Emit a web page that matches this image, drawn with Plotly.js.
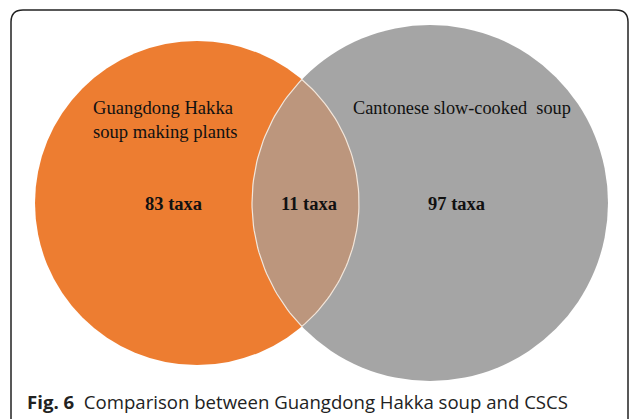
<!DOCTYPE html>
<html>
<head>
<meta charset="utf-8">
<script src="https://cdn.plot.ly/plotly-3.0.1.min.js"></script>
<style>html,body{margin:0;padding:0;background:#fff;}#chart{width:629px;height:419px;}</style>
</head>
<body>
<div id="chart"></div>
<script>
// ---- data ----
var setNames = ["Guangdong Hakka<br>soup making plants", "Cantonese slow-cooked  soup"];
var onlyCounts = [83, 97];
var sharedCount = 11;
var unitLabel = "taxa";
var captionBold = "Fig. 6";
var captionText = "Comparison between Guangdong Hakka soup and CSCS";

// ---- geometry (layout, pixel-like coordinates) ----
var circleCx = [197, 430];
var circleCy = [203, 203];
var circleR = [162, 178];
var circleColors = ["#ED7D31", "#A5A5A5"];
var lensColor = "#BC967D";

// lens polygon from the two circles
function lens() {
  var d = Math.abs(circleCx[1] - circleCx[0]);
  var a = (circleR[0]*circleR[0] - circleR[1]*circleR[1] + d*d) / (2*d);
  var h = Math.sqrt(circleR[0]*circleR[0] - a*a);
  var t0 = Math.atan2(h, a);
  var t1 = Math.atan2(h, d - a);
  var xs = [], ys = [];
  var n = 60, i, t;
  for (i = 0; i <= n; i++) {
    t = -t0 + 2*t0*i/n;
    xs.push(circleCx[0] + circleR[0]*Math.cos(t));
    ys.push(circleCy[0] + circleR[0]*Math.sin(t));
  }
  for (i = 0; i <= n; i++) {
    t = Math.PI - t1 + 2*t1*i/n;
    xs.push(circleCx[1] + circleR[1]*Math.cos(t));
    ys.push(circleCy[1] + circleR[1]*Math.sin(t));
  }
  xs.push(xs[0]); ys.push(ys[0]);
  return {x: xs, y: ys};
}
var L = lens();

var traces = [{
  type: "scatter", mode: "lines", x: L.x, y: L.y, fill: "toself",
  fillcolor: lensColor, line: {color: "#F3E6DA", width: 1.2}, hoverinfo: "skip", showlegend: false
}];

var shapes = [];
for (var i = 0; i < 2; i++) {
  shapes.push({type: "circle", xref: "x", yref: "y", layer: "below",
    x0: circleCx[i] - circleR[i], x1: circleCx[i] + circleR[i],
    y0: circleCy[i] - circleR[i], y1: circleCy[i] + circleR[i],
    fillcolor: circleColors[i], line: {width: 0}});
}
// frame
var fx0 = 11, fx1 = 628, fy0 = 10, fy1 = 445, r = 12;
shapes.push({type: "path", xref: "x", yref: "y", layer: "above",
  path: "M" + fx0 + "," + fy1 + " L" + fx0 + "," + (fy0 + r) + " Q" + fx0 + "," + fy0 + " " + (fx0 + r) + "," + fy0 +
        " L" + (fx1 - r) + "," + fy0 + " Q" + fx1 + "," + fy0 + " " + fx1 + "," + (fy0 + r) + " L" + fx1 + "," + fy1,
  line: {color: "#222", width: 1.5}});

var serif = "Liberation Serif, Times New Roman, serif";
var annotations = [
  {x: 91, y: 119, xanchor: "left", yanchor: "middle", text: setNames[0], align: "left",
   font: {family: serif, size: 18.6, color: "#111"}},
  {x: 351, y: 108, xanchor: "left", yanchor: "middle", text: setNames[1],
   font: {family: serif, size: 18.3, color: "#111"}},
  {x: 173, y: 204, text: "<b>" + onlyCounts[0] + " " + unitLabel + "</b>", font: {family: serif, size: 18.5, color: "#111"}},
  {x: 309, y: 204, text: "<b>" + sharedCount + " " + unitLabel + "</b>", font: {family: serif, size: 18.5, color: "#111"}},
  {x: 456, y: 204, text: "<b>" + onlyCounts[1] + " " + unitLabel + "</b>", font: {family: serif, size: 18.5, color: "#111"}},
  {x: 25, y: 401, xanchor: "left", yanchor: "middle",
   text: "<b>" + captionBold + "</b>  " + captionText,
   font: {family: "Open Sans, Noto Sans, sans-serif", size: 18.6, color: "#222"}}
];
annotations.forEach(function(a){ a.xref = "x"; a.yref = "y"; a.showarrow = false; if(!a.xanchor) a.xanchor="center"; if(!a.yanchor) a.yanchor="middle"; });

var layout = {
  width: 629, height: 419,
  margin: {l: 0, r: 0, t: 0, b: 0},
  paper_bgcolor: "#fff", plot_bgcolor: "#fff",
  xaxis: {range: [0, 629], visible: false, fixedrange: true},
  yaxis: {range: [419, 0], visible: false, fixedrange: true},
  shapes: shapes, annotations: annotations, showlegend: false
};
Plotly.newPlot("chart", traces, layout, {staticPlot: true, displayModeBar: false});
</script>
</body>
</html>
